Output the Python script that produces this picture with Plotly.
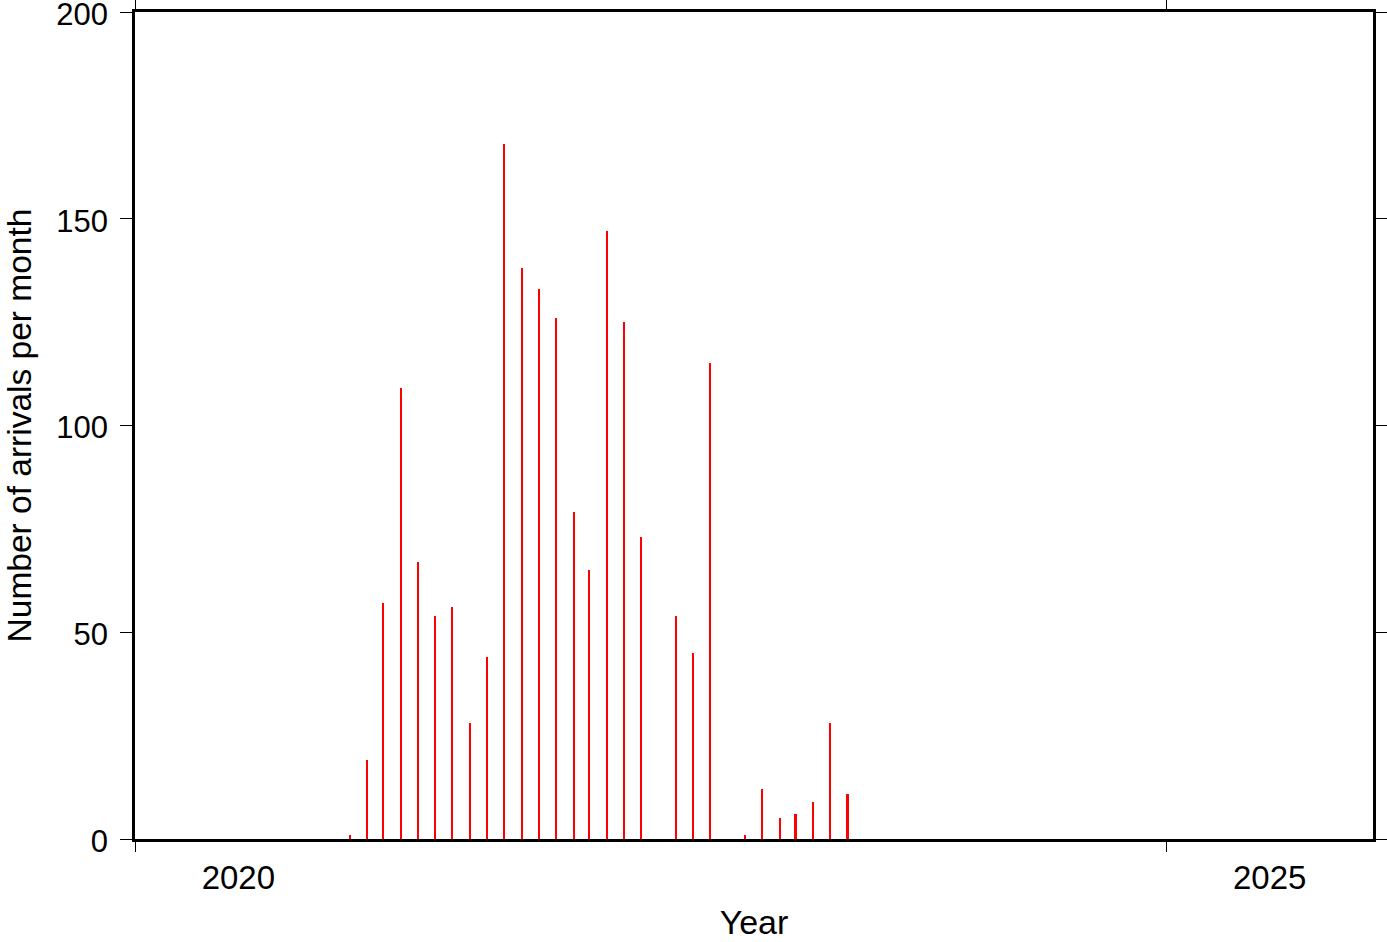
import plotly.graph_objects as go
import pandas as pd

# Monthly arrival counts (Jan 2021 .. Jun 2023)
months = pd.date_range("2021-01-01", "2023-06-01", freq="MS")
counts = [1, 19, 57, 109, 67, 54, 56, 28, 44, 168, 138, 133,
          126, 79, 65, 147, 125, 73, 0, 54, 45, 115, 0, 1,
          12, 5, 6, 9, 28, 11]
bar_dates = [m + pd.Timedelta(days=15) for m in months]

x_range = ["2020-01-01", "2026-01-01"]
year_ticks = ["2020-01-01", "2025-01-01"]
year_label_pos = ["2020-07-02", "2025-07-02"]
year_labels = ["2020", "2025"]
y_ticks = [0, 50, 100, 150, 200]

W, H = 1387, 942
ML, MR, MT, MB = 135, 14, 12, 103
plot_w = W - ML - MR
ms_span = (pd.Timestamp(x_range[1]) - pd.Timestamp(x_range[0])).total_seconds() * 1000
bar_w = ms_span / plot_w * 1.6

FONT = "Liberation Sans, Arial, Helvetica, sans-serif"

fig = go.Figure()
fig.add_trace(go.Bar(x=bar_dates, y=counts, width=bar_w,
                     marker=dict(color="#ff0000", line=dict(width=0)),
                     showlegend=False))
# dummy trace for tick axis
fig.add_trace(go.Scatter(x=x_range, y=[0, 0], xaxis="x2", mode="markers",
                         marker=dict(opacity=0), showlegend=False, hoverinfo="skip"))

fig.update_layout(
    width=W, height=H,
    margin=dict(l=ML, r=MR, t=MT, b=MB),
    paper_bgcolor="white", plot_bgcolor="white",
    font=dict(family=FONT, size=32, color="black"),
    bargap=0,
    xaxis=dict(type="date", range=x_range, tickmode="array",
               tickvals=year_label_pos, ticktext=year_labels,
               ticks="", showgrid=False, zeroline=False, automargin=False,
               showline=True, linewidth=2.5, linecolor="black", mirror=True,
               tickfont=dict(size=33), ticklabelstandoff=8,
               title=dict(text="Year", font=dict(size=34))),
    xaxis2=dict(type="date", range=x_range, overlaying="x", anchor="y", side="bottom",
                tickmode="array", tickvals=year_ticks, showticklabels=False,
                ticks="outside", ticklen=12, tickwidth=1, tickcolor="black",
                mirror="ticks", showline=False, showgrid=False, zeroline=False,
                automargin=False),
    yaxis=dict(range=[0, 200], tickmode="array", tickvals=y_ticks,
               ticks="outside", ticklen=12, tickwidth=1, tickcolor="black",
               showgrid=False, zeroline=False, automargin=False,
               ticklabeloverflow="allow", ticklabelstandoff=6, ticklabelshift=2,
               showline=True, linewidth=2.5, linecolor="black", mirror="ticks",
               tickfont=dict(size=31),
               title=dict(text="Number of arrivals per month", font=dict(size=33.5))),
)

fig.write_html("out.html", config={"displayModeBar": False},
               post_script="document.body.style.margin='0';document.body.style.overflow='hidden';")
